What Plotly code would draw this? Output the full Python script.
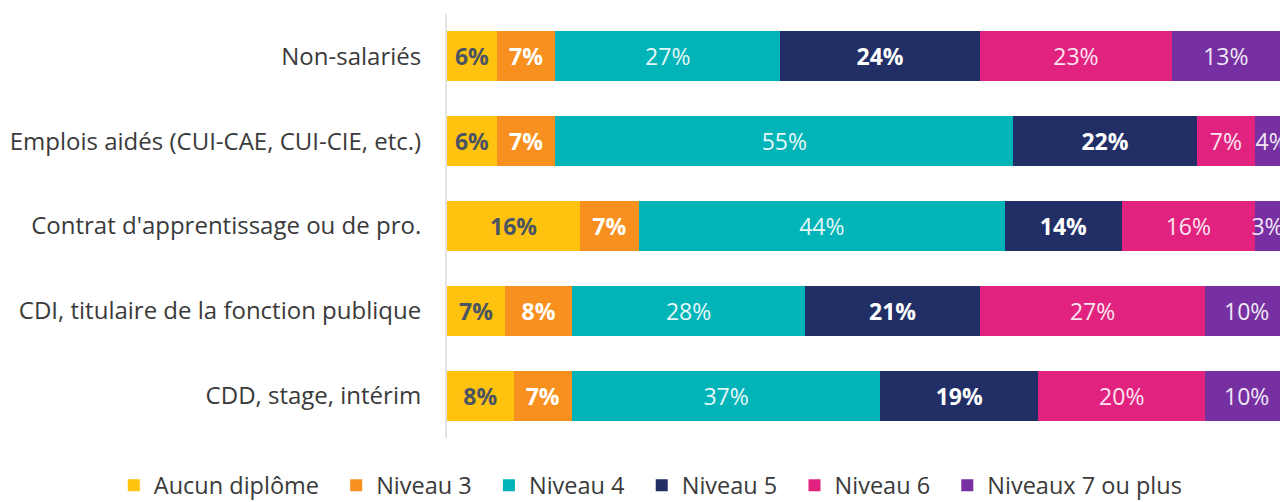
import plotly.graph_objects as go

categories = [
    "Non-salariés",
    "Emplois aidés (CUI-CAE, CUI-CIE, etc.)",
    "Contrat d'apprentissage ou de pro.",
    "CDI, titulaire de la fonction publique",
    "CDD, stage, intérim",
]

aucun_diplome = [6, 6, 16, 7, 8]
niveau_3 = [7, 7, 7, 8, 7]
niveau_4 = [27, 55, 44, 28, 37]
niveau_5 = [24, 22, 14, 21, 19]
niveau_6 = [23, 7, 16, 27, 20]
niveaux_7_plus = [13, 4, 3, 10, 10]

series = [
    ("Aucun diplôme", aucun_diplome, "#FFC20E", "#4a5462", "bold"),
    ("Niveau 3", niveau_3, "#F7901E", "#ffffff", "bold"),
    ("Niveau 4", niveau_4, "#00B4B8", "#e6f7f7", "normal"),
    ("Niveau 5", niveau_5, "#212F66", "#ffffff", "bold"),
    ("Niveau 6", niveau_6, "#E2227F", "#fbe4ef", "normal"),
    ("Niveaux 7 ou plus", niveaux_7_plus, "#7630A2", "#efe6f5", "normal"),
]

fig = go.Figure()

for name, values, color, text_color, weight in series:
    fig.add_trace(go.Bar(
        y=categories, x=values,
        orientation="h",
        name=name + "\u00a0\u00a0",  # a bit more room between legend entries
        marker=dict(color=color, line=dict(width=0)),
        width=0.59,
        text=[f"{v}%" for v in values],
        textposition="inside",
        insidetextanchor="middle",
        textangle=0,
        textfont=dict(family="Open Sans", size=23, color=text_color, weight=weight),
        hoverinfo="skip",
    ))

# plot area: x 447..1280, y 13.5..438.5
fig.update_layout(
    barmode="stack",
    width=1280,
    height=502,
    margin=dict(l=447, r=0, t=13.5, b=63.5, autoexpand=False),
    paper_bgcolor="white",
    plot_bgcolor="white",
    font=dict(family="Open Sans", color="#3a3a3a"),
    uniformtext=dict(minsize=23, mode="show"),
    showlegend=True,
    legend=dict(
        orientation="h",
        traceorder="normal",
        x=-0.4, xanchor="left",
        y=-0.112, yanchor="middle",
        font=dict(family="Open Sans", size=23.5, color="#3a3a3a"),
        itemclick=False,
    ),
    xaxis=dict(
        range=[0, 100],
        showgrid=False,
        zeroline=False,
        showticklabels=False,
        fixedrange=True,
    ),
    yaxis=dict(
        categoryorder="array",
        categoryarray=categories,
        autorange="reversed",
        showgrid=False,
        showline=True,
        linecolor="#e4e4e4",
        linewidth=2,
        ticks="",
        ticklabelstandoff=19,
        tickfont=dict(family="Open Sans", size=24, color="#3a3a3a"),
        fixedrange=True,
    ),
)

fig.write_html(
    "out.html",
    config={"displayModeBar": False},
    post_script="document.body.style.margin='0';",
)
